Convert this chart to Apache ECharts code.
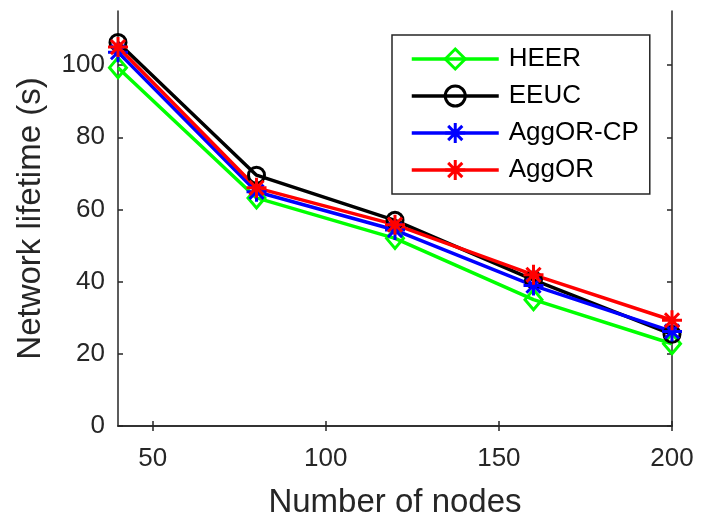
<!DOCTYPE html>
<html>
<head>
<meta charset="utf-8">
<script src="https://cdn.jsdelivr.net/npm/echarts@6/dist/echarts.min.js"></script>
<style>html,body{margin:0;padding:0;background:#fff}#c{width:705px;height:524px}</style>
</head>
<body>
<div id="c"></div>
<script>
const nodes = [40, 80, 120, 160, 200];
const heer = [99.3, 63.2, 52.0, 35.0, 22.8];
const eeuc = [106.3, 69.5, 57.0, 40.5, 25.4];
const aggorCp = [103.6, 64.9, 54.3, 38.9, 26.2];
const aggor = [105.0, 66.0, 55.8, 41.9, 29.3];
const xTicks = [50, 100, 150, 200];
const yTicks = [0, 20, 40, 60, 80, 100];
const seriesNames = ['HEER', 'EEUC', 'AggOR-CP', 'AggOR'];

const FONT = 'Liberation Sans, Arial, Helvetica, sans-serif';
const AX = '#262626';
const STAR = 'path://M0,-10L0,10M-10,0L10,0M-7.07,-7.07L7.07,7.07M-7.07,7.07L7.07,-7.07';

function pairs(ys) { return nodes.map((x, i) => [x, ys[i]]); }

function mkSeries(name, ys, color, symbol, size) {
  return {
    name: name, type: 'line', data: pairs(ys),
    symbol: symbol, symbolSize: size, showSymbol: true,
    lineStyle: { color: color, width: 3.5 },
    itemStyle: { color: 'rgba(255,255,255,0)', borderColor: color, borderWidth: 3 },
    emphasis: { disabled: true },
    z: 3
  };
}

const baseAxisLine = { show: true, lineStyle: { color: AX, width: 1.5 } };
const chart = echarts.init(document.getElementById('c'), null, { renderer: 'canvas' });
chart.setOption({
  animation: false,
  backgroundColor: '#fff',
  textStyle: { fontFamily: FONT },
  grid: { left: 118, right: 33, top: 11, bottom: 97, containLabel: false },
  legend: {
    orient: 'vertical', left: 392, top: 35,
    data: seriesNames,
    itemWidth: 87, itemHeight: 25, itemGap: 9,
    padding: [10, 11, 10, 18],
    backgroundColor: '#fff', borderColor: AX, borderWidth: 1.5, borderRadius: 0,
    lineStyle: { width: 3.5 },
    itemStyle: { borderWidth: 3 },
    textStyle: { fontSize: 26, color: '#000', fontFamily: FONT, lineHeight: 28, padding: [0, 0, 0, 5] },
    selectedMode: false
  },
  xAxis: [{
    type: 'value', min: 40, max: 200, position: 'bottom',
    name: 'Number of nodes', nameLocation: 'middle', nameGap: 60,
    nameTextStyle: { fontSize: 33, color: AX, fontFamily: FONT },
    axisLine: baseAxisLine,
    axisTick: { show: true, inside: true, length: 5, customValues: xTicks, lineStyle: { color: AX, width: 1.5 } },
    axisLabel: { show: true, customValues: xTicks, fontSize: 26, color: AX, margin: 20, fontFamily: FONT },
    splitLine: { show: false }
  }, {
    type: 'value', min: 40, max: 200, position: 'top',
    axisLine: baseAxisLine,
    axisTick: { show: true, inside: true, length: 5, customValues: xTicks, lineStyle: { color: AX, width: 1.5 } },
    axisLabel: { show: false },
    splitLine: { show: false }
  }],
  yAxis: [{
    type: 'value', min: 0, max: 115, position: 'left',
    name: 'Network lifetime (s)', nameLocation: 'middle', nameGap: 71, nameRotate: 90,
    nameTextStyle: { fontSize: 33, color: AX, fontFamily: FONT },
    axisLine: baseAxisLine,
    axisTick: { show: true, inside: true, length: 5, customValues: yTicks, lineStyle: { color: AX, width: 1.5 } },
    axisLabel: { show: true, customValues: yTicks, fontSize: 26, color: AX, margin: 13, fontFamily: FONT },
    splitLine: { show: false }
  }, {
    type: 'value', min: 0, max: 115, position: 'right',
    axisLine: baseAxisLine,
    axisTick: { show: true, inside: true, length: 5, customValues: yTicks, lineStyle: { color: AX, width: 1.5 } },
    axisLabel: { show: false },
    splitLine: { show: false }
  }],
  series: [
    mkSeries(seriesNames[0], heer, '#00ff00', 'diamond', [17, 20]),
    mkSeries(seriesNames[1], eeuc, '#000000', 'circle', 16),
    mkSeries(seriesNames[2], aggorCp, '#0000ff', STAR, 20),
    mkSeries(seriesNames[3], aggor, '#ff0000', STAR, 20)
  ]
});
</script>
</body>
</html>
